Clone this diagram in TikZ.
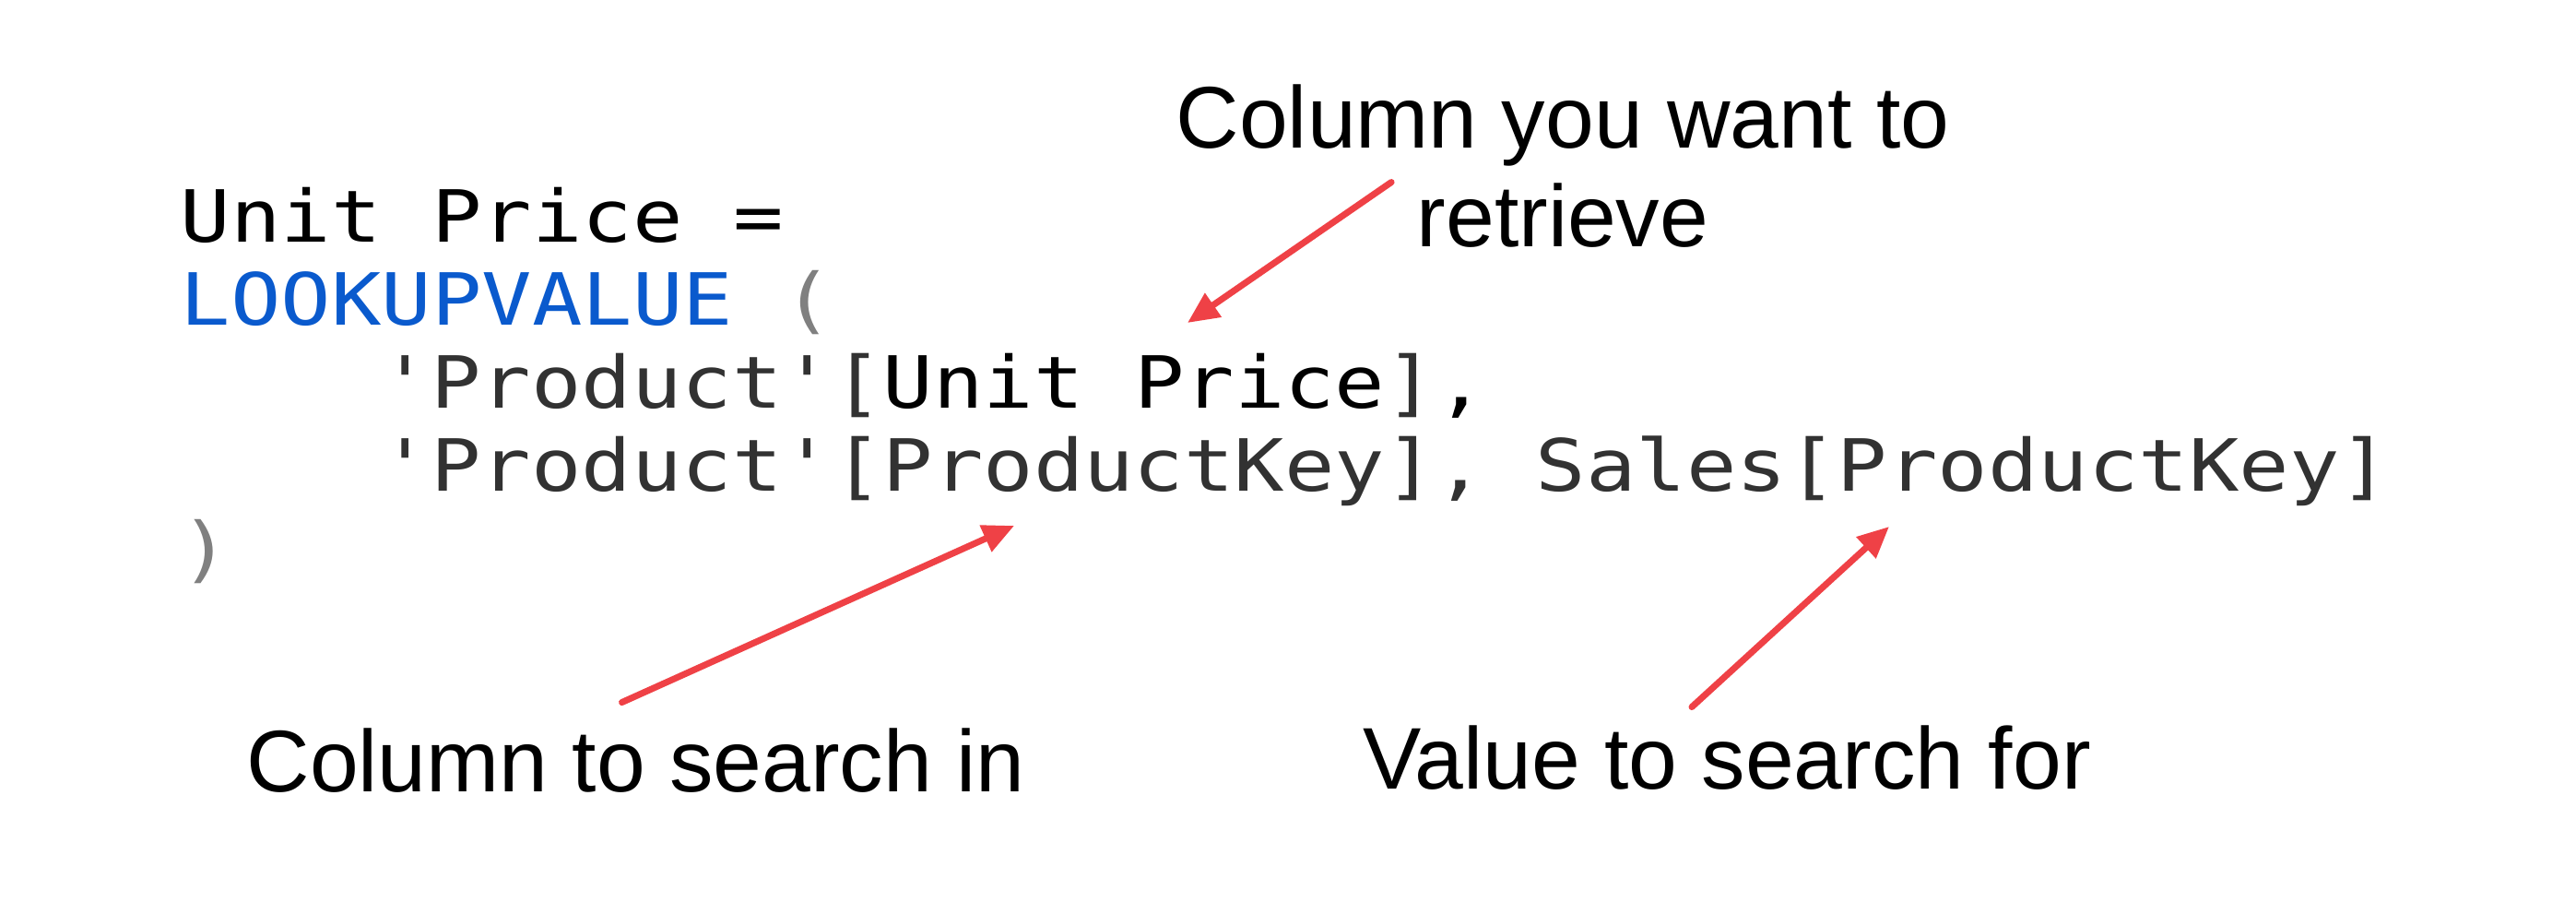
\documentclass[tikz,border=0pt]{standalone}
\usepackage{fontspec}
\setmainfont{Liberation Sans}
\setmonofont{DejaVu Sans Mono}[FakeStretch=1.16]
\usepackage{tikz}
\usetikzlibrary{arrows.meta,positioning}

\definecolor{daxblue}{RGB}{10,90,205}
\definecolor{daxgray}{RGB}{50,50,50}
\definecolor{parengray}{RGB}{128,128,128}
\definecolor{arrowred}{RGB}{239,65,70}

\tikzset{
  codeline/.style={anchor=base west,inner sep=0pt,font=\ttfamily\fontsize{22.2}{25.6}\selectfont},
  note/.style={anchor=base,inner sep=0pt,font=\fontsize{27}{30.4}\selectfont},
  pointer/.style={draw=arrowred,line width=0.07cm,line cap=round,
    -{Triangle[length=0.34cm,width=0.3cm]}}
}

\begin{document}
\begin{tikzpicture}
  \fill[white] (0,0) rectangle (27.94,-9.90);
  \useasboundingbox (0,0) rectangle (27.94,-9.90);

  % the formula
  \draw
  (1.95,-2.62) node[codeline] (l1) {Unit Price =}
  ++(0,-0.9) node[codeline] (l2) {\textcolor{daxblue}{LOOKUPVALUE} \textcolor{parengray}{(}}
  ++(2.17,-0.9) node[codeline] (l3)
    {\textcolor{daxgray}{'Product'[}Unit Price\textcolor{daxgray}{]},}
  ++(0,-0.9) node[codeline,text=daxgray] (l4) {'Product'[ProductKey], Sales[ProductKey]}
  ++(-2.17,-0.9) node[codeline,text=parengray] (l5) {)};

  % the notes
  \node[note] (want) at (16.95,-1.60) {Column you want to};
  \node[note] (ret) at (16.95,-2.67) {retrieve};
  \node[note] (search) at (6.895,-8.58) {Column to search in};
  \node[note] (value) at (18.73,-8.55) {Value to search for};

  \coordinate (retTip) at (12.88,-3.50);
  \coordinate (searchTip) at (11.00,-5.70);
  \coordinate (valueTip) at (20.49,-5.71);

  \draw[pointer] ([xshift=-0.27cm]ret.north west) -- (retTip);
  \draw[pointer] ([shift={(-0.15,0.27)}]search.north) -- (searchTip);
  \draw[pointer] ([shift={(-0.38,0.19)}]value.north) -- (valueTip);
\end{tikzpicture}
\end{document}
